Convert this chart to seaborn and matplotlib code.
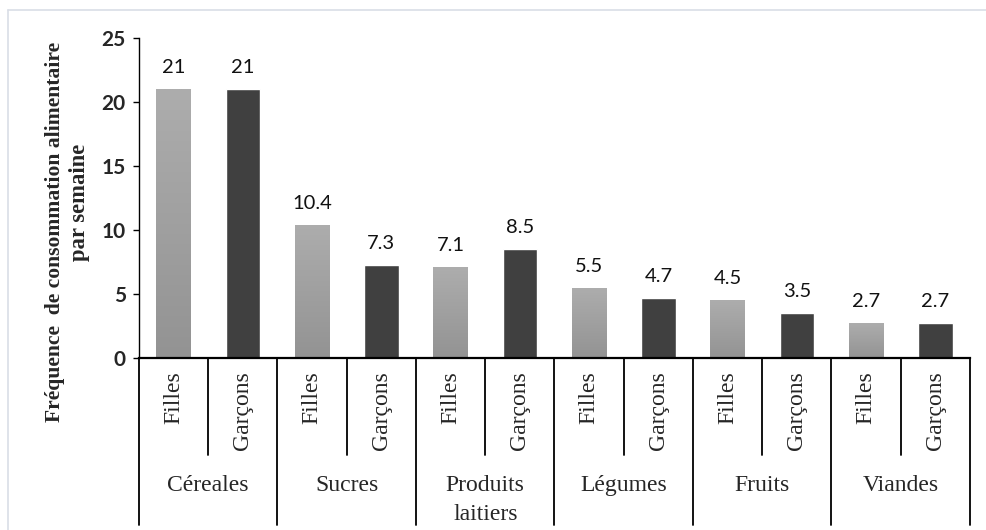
import numpy as np
import pandas as pd
import matplotlib
matplotlib.use("Agg")
import matplotlib.pyplot as plt
import matplotlib.transforms as mtransforms
from matplotlib.lines import Line2D
import seaborn as sns

# Food groups and weekly consumption frequency by sex
groupes = ["Céreales", "Sucres", "Produits\nlaitiers", "Légumes", "Fruits", "Viandes"]
sexes = ["Filles", "Garçons"]
filles = [21, 10.4, 7.1, 5.5, 4.5, 2.7]
garcons = [21, 7.3, 8.5, 4.7, 3.5, 2.7]
yticks = [0, 5, 10, 15, 20, 25]

rows = []
for g, f, h in zip(groupes, filles, garcons):
    rows.append({"slot": f"{g}|Filles", "groupe": g, "sexe": "Filles", "valeur": f})
    rows.append({"slot": f"{g}|Garçons", "groupe": g, "sexe": "Garçons", "valeur": h})
df = pd.DataFrame(rows)
order = list(df["slot"])

sns.set_style("white")
plt.rcParams["font.family"] = ["Lato", "DejaVu Sans"]

W, H = 987, 530
fig = plt.figure(figsize=(W / 100, H / 100), dpi=100)
ax_left, ax_right, ax_top, ax_bottom = 139, 970, 38, 358
ax = fig.add_axes([ax_left / W, 1 - ax_bottom / H,
                   (ax_right - ax_left) / W, (ax_bottom - ax_top) / H])

palette = {"Filles": "#a2a2a2", "Garçons": "#404040"}
sns.barplot(data=df, x="slot", y="valeur", hue="sexe", order=order,
            hue_order=sexes, palette=palette, dodge=False, width=0.5,
            saturation=1, legend=False, ax=ax)

ax.set_xlim(-0.5, len(order) - 0.5)
ax.set_ylim(0, 25)
ax.set_yticks(yticks)
ax.set_yticklabels([str(t) for t in yticks], fontsize=15, fontweight="bold")
ax.tick_params(axis="y", direction="out", length=4.5, width=1, color="black",
               pad=5, left=True)
ax.set_xticks([])
ax.set_xlabel("")
ax.set_ylabel("")
for s in ["top", "right"]:
    ax.spines[s].set_visible(False)
ax.spines["left"].set_color("black")
ax.spines["left"].set_linewidth(1)
ax.spines["bottom"].set_color("black")
ax.spines["bottom"].set_linewidth(1.6)

# Soft vertical gradient on the light bars (even slots are "Filles")
grad = np.linspace(0, 1, 256).reshape(-1, 1)
cmap = matplotlib.colors.LinearSegmentedColormap.from_list("g", ["#939393", "#adadad"])
for patch in list(ax.patches):
    x0, y0 = patch.get_x(), patch.get_y()
    w, h = patch.get_width(), patch.get_height()
    idx = int(round(x0 + w / 2))
    if h <= 0 or idx % 2 != 0:
        continue
    im = ax.imshow(grad, cmap=cmap, origin="lower", aspect="auto",
                   extent=[x0, x0 + w, y0, y0 + h], zorder=patch.get_zorder() + 0.1)
    im.set_clip_path(patch)
ax.set_xlim(-0.5, len(order) - 0.5)
ax.set_ylim(0, 25)

# Value labels above bars
for i, v in enumerate(df["valeur"]):
    ax.annotate(f"{v:g}", xy=(i, v), xytext=(0, 13), textcoords="offset pixels",
                ha="center", va="bottom", fontsize=14.5, color="#111111")

# Two-level category axis drawn below the plot
trans = mtransforms.blended_transform_factory(ax.transData, ax.transAxes)
span = ax_bottom - ax_top
def ay(py):
    return (ax_bottom - py) / span

serif = ["Liberation Serif", "DejaVu Serif"]
for i, s in enumerate(df["sexe"]):
    ax.text(i, ay(371), s, rotation=90, ha="center", va="top",
            fontsize=17, family=serif, transform=trans, clip_on=False)
for k, g in enumerate(groupes):
    ax.text(2 * k + 0.5, ay(475), g, ha="center", va="top", fontsize=17,
            family=serif, linespacing=1.5, transform=trans, clip_on=False)
    # short divider between the two sexes
    ax.add_line(Line2D([2 * k + 0.5] * 2, [0, ay(455)], color="black", lw=1.3,
                       transform=trans, clip_on=False))
for k in range(len(groupes) + 1):
    ax.add_line(Line2D([2 * k - 0.5] * 2, [0, ay(525)], color="black", lw=1.3,
                       transform=trans, clip_on=False))

# Y-axis title (two lines)
fig.text(55 / W, 1 - 232 / H, "Fréquence  de consommation alimentaire",
         rotation=90, ha="center", va="center", fontsize=15.6,
         fontweight="bold", family=serif)
fig.text(80 / W, 1 - 202 / H, "par semaine", rotation=90, ha="center",
         va="center", fontsize=16.3, fontweight="bold", family=serif)

# Light frame around the chart area
fig.add_artist(Line2D([8 / W, 1], [1 - 9.5 / H] * 2, color="#d9dee6", lw=1.2,
                      transform=fig.transFigure))
fig.add_artist(Line2D([8 / W] * 2, [0, 1 - 9.5 / H], color="#d9dee6", lw=1.2,
                      transform=fig.transFigure))

fig.savefig("out.png", dpi=100, facecolor="white")
